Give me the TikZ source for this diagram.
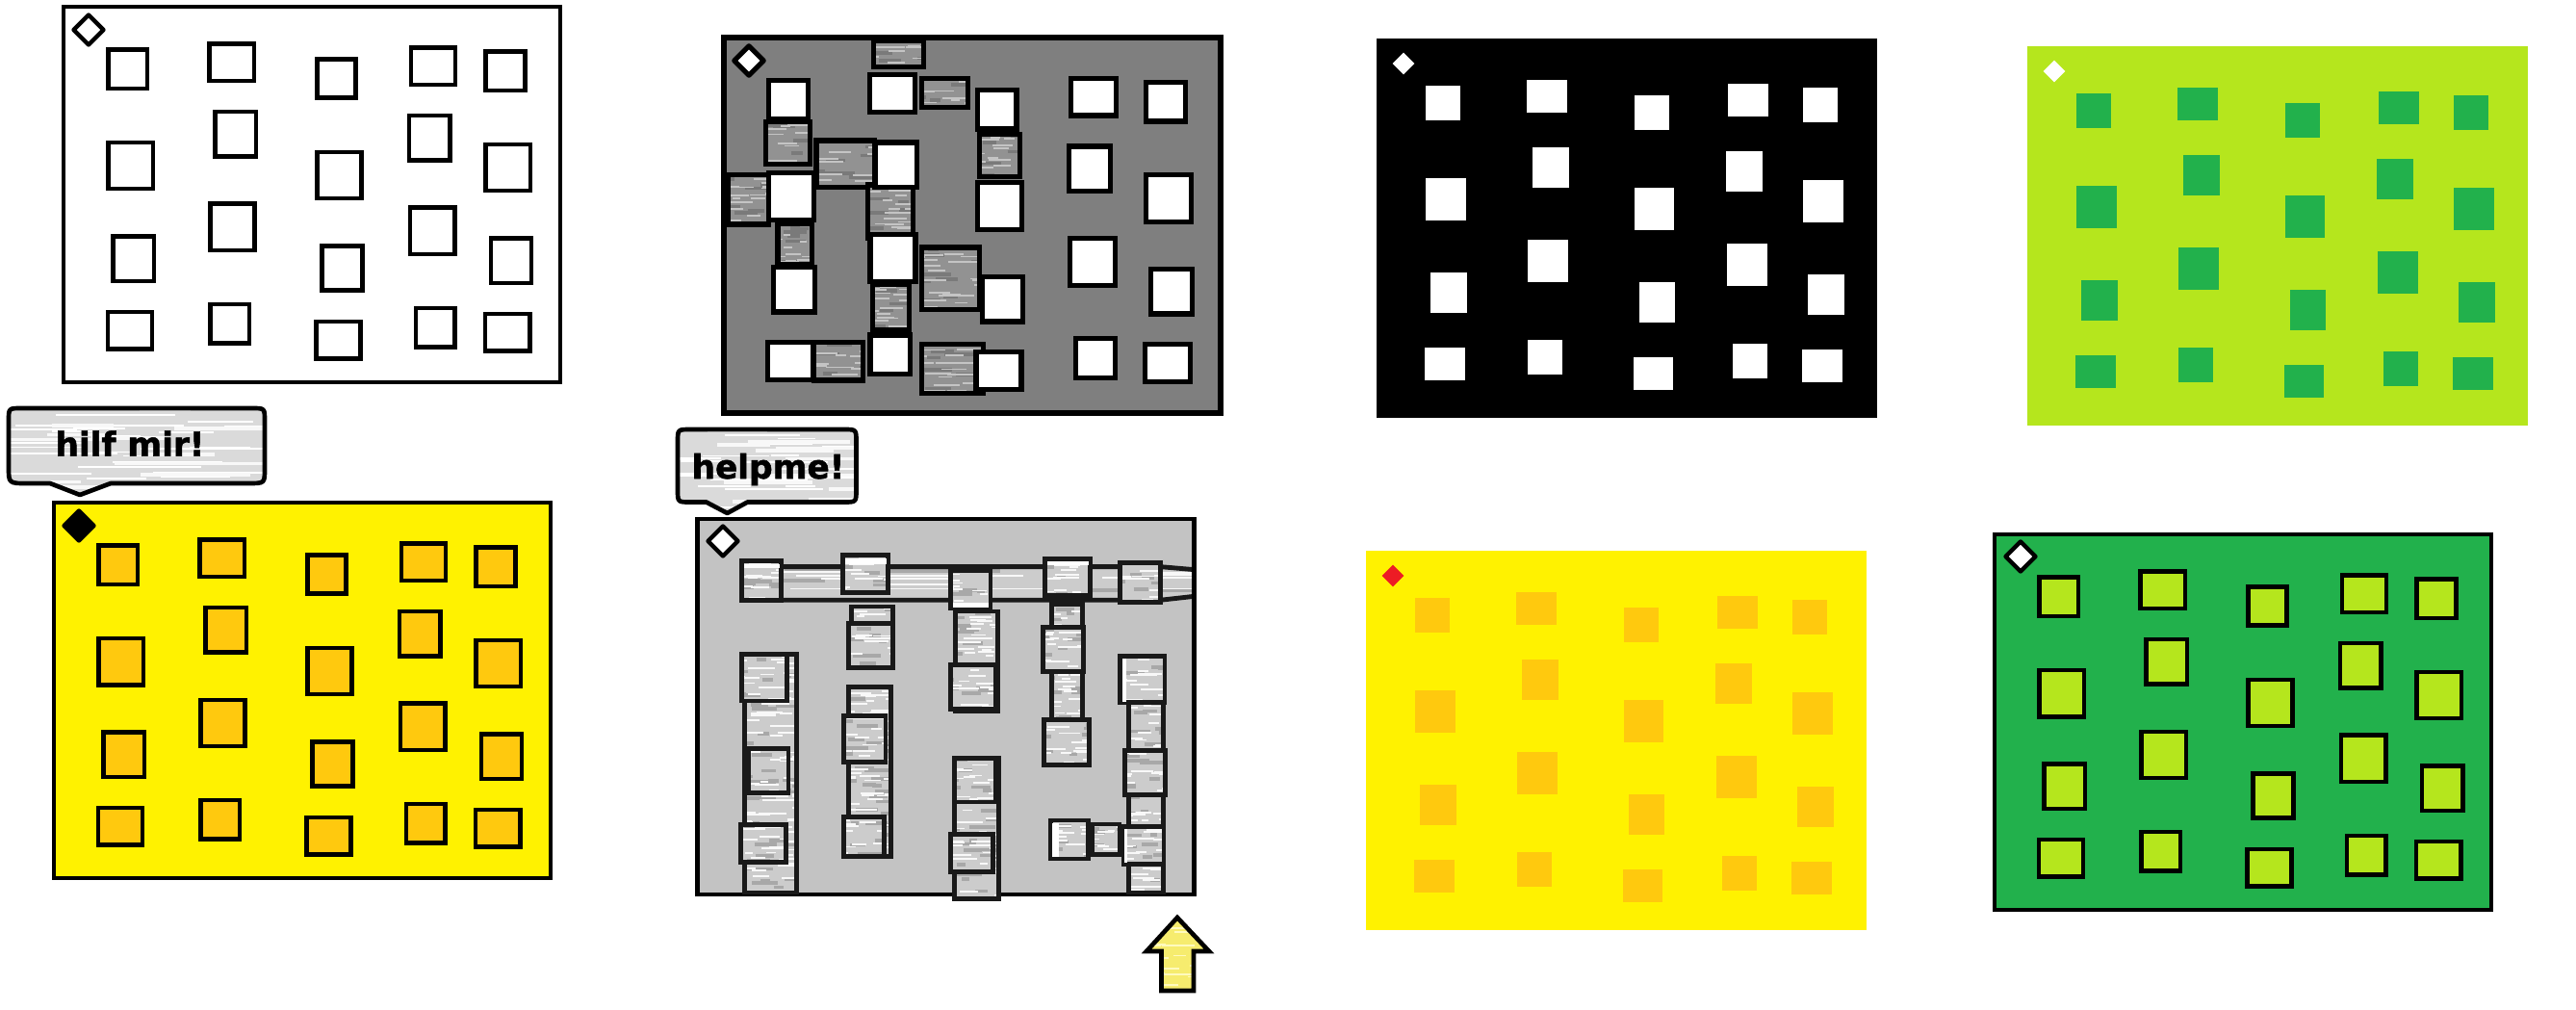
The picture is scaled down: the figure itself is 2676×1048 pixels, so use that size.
\documentclass[tikz,border=0pt]{standalone}
\usepackage{fontspec}
\setmainfont{Liberation Sans}
\newfontfamily\sayfont[FakeBold=1.5]{DejaVu Sans}
\definecolor{pgray}{RGB}{127,127,127}
\definecolor{lgray}{RGB}{195,195,195}
\definecolor{plime}{RGB}{181,230,29}
\definecolor{pgreen}{RGB}{34,177,76}
\definecolor{pyellow}{RGB}{255,242,0}
\definecolor{pgold}{RGB}{255,201,14}
\definecolor{pred}{RGB}{237,28,36}
\definecolor{texdark}{RGB}{146,146,146}
\definecolor{texdarkhi}{RGB}{196,196,196}
\definecolor{texdarklo}{RGB}{122,122,122}
\definecolor{texlight}{RGB}{204,204,204}
\definecolor{texlighthi}{RGB}{248,248,248}
\definecolor{texlightlo}{RGB}{168,168,168}
\definecolor{bubblefill}{RGB}{218,218,218}
\definecolor{arrowfill}{RGB}{246,236,110}
\definecolor{arrowhi}{RGB}{255,250,190}
\tikzset{
  bline/.style={draw=black, line width=1.3pt},
  sqline/.style={draw=black, line width=1.35pt},
  gline/.style={draw=black, line width=1.55pt},
  tline/.style={draw=black, line width=1.55pt},
  tlline/.style={draw=black!90, line width=1.45pt},
  bubble/.style={draw=black, line width=1.4pt, line join=round},
  saytext/.style={font=\sayfont\fontsize{10.3}{12}\selectfont\bfseries, anchor=base, inner sep=0pt},
}
\def\layout{0.0977/0.1237/0.1667/0.2146,0.2996/0.1086/0.3803/0.1944,0.5147/0.1490/0.5837/0.2399,0.7026/0.1187/0.7827/0.2045,0.8517/0.1288/0.9214/0.2197,0.0977/0.3687/0.1784/0.4798,0.3106/0.2879/0.3840/0.3939,0.5147/0.3939/0.5947/0.5051,0.6982/0.2980/0.7717/0.4040,0.8517/0.3737/0.9325/0.4848,0.1072/0.6162/0.1806/0.7222,0.3010/0.5303/0.3818/0.6414,0.5242/0.6414/0.5969/0.7475,0.7004/0.5404/0.7812/0.6515,0.8620/0.6212/0.9347/0.7273,0.0962/0.8157/0.1769/0.9015,0.3010/0.7955/0.3708/0.8864,0.5125/0.8409/0.5932/0.9268,0.7122/0.8056/0.7812/0.8965,0.8502/0.8207/0.9310/0.9066}
\newcommand\sqgrid[4]{%
  \foreach \a/\b/\c/\d in \layout {%
    \path[#3] ({#1+\a*520-#4},{#2+\b*394-#4}) rectangle ({#1+\c*520+#4},{#2+\d*394+#4});
  }}
\newcommand\obox[5]{\path[#1] ({#2+2},{#3+2}) rectangle ({#4-2},{#5-2});}
\newcommand\diam[4]{\path[#1] ({#2},{#3-#4}) -- ({#2+#4},{#3}) -- ({#2},{#3+#4}) -- ({#2-#4},{#3}) -- cycle;}
% random horizontal streaks inside a rectangle: x1 y1 x2 y2 colour width density
\newcommand\streaks[7]{%
  \pgfmathtruncatemacro\nn{max(3,(#4-#2)/#7)}%
  \foreach \k in {1,...,\nn} {%
    \pgfmathsetmacro\yy{#2+rnd*(#4-#2)}%
    \pgfmathsetmacro\xa{#1+(rnd*1.2-0.3)*(#3-#1)}%
    \pgfmathsetmacro\ll{(0.15+0.45*rnd)*(#3-#1)}%
    \draw[#5, line width=#6] (\xa,\yy) -- ++(\ll,0);
  }}
% textured box: fill, hi, lo, border style, x1 y1 x2 y2 (outer)
\newcommand\tbox[8]{%
  \fill[#1] ({#5+2},{#6+2}) rectangle ({#7-2},{#8-2});
  \begin{scope}
    \clip ({#5+2},{#6+2}) rectangle ({#7-2},{#8-2});
    \streaks{#5}{#6}{#7}{#8}{#3}{1.1pt}{7}
    \streaks{#5}{#6}{#7}{#8}{#2}{0.55pt}{3}
  \end{scope}
  \path[#4] ({#5+2},{#6+2}) rectangle ({#7-2},{#8-2});}
\newcommand\dbox[4]{\tbox{texdark}{texdarkhi}{texdarklo}{tline}{#1}{#2}{#3}{#4}}
\newcommand\lbox[4]{\tbox{texlight}{texlighthi}{texlightlo}{tlline}{#1}{#2}{#3}{#4}}
\begin{document}
\begin{tikzpicture}[x=0.3pt,y=-0.3pt]
\pgfmathsetseed{7}
\useasboundingbox (0,0) rectangle (2676,1048);
\fill[white] (0,0) rectangle (2676,1048);

% ---------- panel 1 (white)
\obox{fill=white,bline}{64}{5}{584}{399}
\diam{fill=white,bline,line join=round}{92}{31}{15.5}
\sqgrid{64}{5}{fill=white,sqline}{2.2}

% ---------- panel 2 (gray with textured blocks)
\obox{fill=pgray,gline}{750}{37}{1270}{431}
\diam{fill=white,gline,line join=round}{778}{63}{15.2}
\dbox{905.4}{40.7}{961.4}{71.7}
\dbox{955.4}{79.3}{1007.1}{113.3}
\dbox{793.6}{124.3}{843.6}{172.3}
\dbox{846}{144}{910.7}{196.7}
\dbox{754.3}{179.3}{800.7}{235}
\dbox{899.6}{190}{950.7}{249.3}
\dbox{1015.7}{137.3}{1061.4}{185.7}
\dbox{806}{230}{845.4}{276.7}
\dbox{955.4}{255}{1019.3}{323.3}
\dbox{904.3}{293.3}{946.4}{345}
\dbox{843.6}{353.3}{898.9}{397}
\dbox{955.4}{355.7}{1023.2}{410.7}
\sqgrid{750}{37}{fill=white,gline}{2.5}

% ---------- panel 3 (black)
\fill[black] (1430,40) rectangle (1950,434);
\diam{fill=white}{1458}{66}{11.3}
\sqgrid{1430}{40}{fill=white}{0}

% ---------- panel 4 (lime)
\fill[plime] (2106,48) rectangle (2626,442);
\diam{fill=white}{2134}{74}{11.3}
\sqgrid{2106}{48}{fill=pgreen}{0}

% ---------- panel 5 (yellow, bordered)
\obox{fill=pyellow,bline}{54}{520}{574}{914}
\diam{fill=black,bline,line join=round}{82}{546}{15.5}
\sqgrid{54}{520}{fill=pgold,sqline}{2.2}

% ---------- panel 6 (light gray, connected blocks)
\obox{fill=lgray,bline}{722.5}{537}{1242.5}{931}
\diam{fill=white,bline,line join=round}{751}{562}{15.5}
% columns
\lbox{771.2}{677.3}{829.4}{929}
\lbox{882.9}{628}{929.6}{649.4}
\lbox{879.9}{711.4}{927.7}{891.7}
\lbox{990.9}{633}{1038.7}{740.5}
\lbox{989.7}{785}{1039.5}{935.5}
\lbox{1090.4}{625.3}{1126.7}{796.7}
\lbox{1170.7}{679.6}{1210.9}{929}
\lbox{1132.5}{854}{1165}{889.8}
% bar (runs out under the right border of the panel)
\fill[texlight] (773,595) .. controls (775,588.6) .. (800,588.6) -- (1205,588.6)
  -- (1239,591.5) -- (1239,619.5) -- (1205,623.3) -- (800,623.3)
  .. controls (775,623.3) .. (773,617) -- cycle;
\begin{scope}
  \clip (776,590) rectangle (1239,622);
  \streaks{776}{590}{1239}{622}{texlightlo}{1.1pt}{7}
  \streaks{776}{590}{1239}{622}{texlighthi}{0.55pt}{3}
\end{scope}
\draw[draw=black!90, line width=1.45pt] (1239,591.5) -- (1205,588.6) -- (800,588.6)
  .. controls (775,588.6) .. (773,595) -- (773,617) .. controls (775,623.3) .. (800,623.3)
  -- (1205,623.3) -- (1239,619.5);
% squares
\lbox{768.9}{580.8}{813.7}{625.3}
\lbox{873.4}{574.9}{924.6}{617.6}
\lbox{985.1}{590.1}{1031}{633.9}
\lbox{1083.5}{578.4}{1134.4}{620.3}
\lbox{1161.2}{582.3}{1207.1}{627.3}
\lbox{768.9}{677.3}{819.8}{730}
\lbox{879.9}{645.5}{929.6}{695.9}
\lbox{985.1}{688.2}{1036}{738.6}
\lbox{1081.6}{649.4}{1127.9}{699.8}
\lbox{1161.9}{679.6}{1212}{731.6}
\lbox{775.4}{775.4}{821}{825.8}
\lbox{874.9}{741.7}{922}{793.6}
\lbox{989.7}{785.1}{1036}{835}
\lbox{1082.7}{745.2}{1133.6}{796.7}
\lbox{1166.1}{777.3}{1212.8}{827.7}
\lbox{767.4}{854.1}{818.6}{897.5}
\lbox{874.9}{846.4}{920.1}{891.7}
\lbox{985.1}{864.6}{1033.7}{907.2}
\lbox{1089.2}{850}{1132.5}{894}
\lbox{1165}{856.8}{1211}{899.5}
% white remnants
\fill[white] (773,585.6) rectangle (810,589.6);
\fill[white] (878,580) rectangle (921,585.6);
\fill[white] (989.7,625.6) rectangle (1027,631);
\fill[white] (1088.4,583) rectangle (1130.5,586.8);
\fill[white] (1092.5,855) rectangle (1100,890);
\fill[white] (1165.5,684) rectangle (1169.5,729);
\fill[white] (1168,861) rectangle (1170.5,896);
% right border of the panel over the bar end
\draw[black, line width=1.3pt] (1240.5,585) -- (1240.5,626);

% ---------- panel 7 (yellow, plain)
\fill[pyellow] (1419,572) rectangle (1939,966);
\diam{fill=pred}{1447}{598}{11.3}
\sqgrid{1419}{572}{fill=pgold}{0}

% ---------- panel 8 (green, bordered)
\obox{fill=pgreen,bline}{2070}{553}{2590}{947}
\diam{fill=white,bline,line join=round}{2099}{578}{15.5}
\sqgrid{2070}{553}{fill=plime,sqline}{2.2}

% ---------- speech bubbles
\def\bubA{(22,424) -- (262,424) .. controls (275,424) .. (275,437) -- (275,487)
  .. controls (275,502) .. (258,502) -- (115,502) -- (83,514) -- (52,502) -- (28,502)
  .. controls (9,502) .. (9,485) -- (9,437) .. controls (9,424) .. (22,424) -- cycle}
\fill[bubblefill] \bubA;
\begin{scope}
  \clip \bubA;
  \streaks{9}{424}{275}{513}{white}{0.55pt}{3}
  \streaks{9}{424}{275}{513}{white!80!bubblefill}{1.1pt}{6}
\end{scope}
\path[bubble] \bubA;
\node[saytext] (say1) at (135,473.5) {hilf mir!};

\def\bubB{(717,446) -- (876.5,446) .. controls (889.5,446) .. (889.5,459) -- (889.5,508.5)
  .. controls (889.5,521.5) .. (876.5,521.5) -- (776.5,521.5) -- (755.5,533) -- (733.7,521.5)
  -- (717,521.5) .. controls (704,521.5) .. (704,508.5) -- (704,459) .. controls (704,446) .. (717,446) -- cycle}
\fill[bubblefill] \bubB;
\begin{scope}
  \clip \bubB;
  \streaks{704}{446}{890}{532}{white}{0.55pt}{3}
  \streaks{704}{446}{890}{532}{white!80!bubblefill}{1.1pt}{6}
\end{scope}
\path[bubble] \bubB;
\node[saytext] (say2) at (798,497) {helpme!};

% ---------- arrow
\def\arr{(1223,953) -- (1256,988) -- (1240,988) -- (1240,1029) -- (1206.5,1029) -- (1206.5,988) -- (1191,988) -- cycle}
\fill[arrowfill] \arr;
\begin{scope}
  \clip \arr;
  \streaks{1190}{953}{1257}{1030}{arrowhi}{0.55pt}{3}
\end{scope}
\path[draw=black, line width=1.4pt] \arr;
\end{tikzpicture}
\end{document}
